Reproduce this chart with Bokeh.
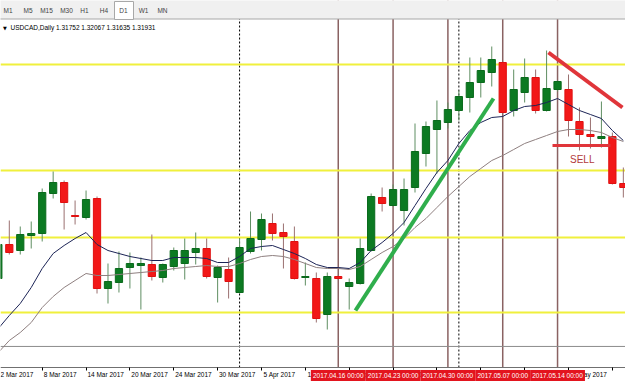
from bokeh.plotting import figure
from bokeh.models import Range1d, FixedTicker, Span, ColumnDataSource
from bokeh.core.properties import value
from bokeh.embed import file_html
from bokeh.resources import INLINE

# ---------------- data ----------------
bar_idx = list(range(-1, 57))
opens = [1.3329, 1.3397, 1.3385, 1.3415, 1.3419, 1.3499, 1.3521, 1.3455, 1.3451, 1.3489,
         1.3309, 1.3321, 1.3351, 1.3355, 1.3357, 1.3331, 1.3353, 1.3359, 1.3381, 1.3389,
         1.3331, 1.3347, 1.3301, 1.3383, 1.3407, 1.3439, 1.3421, 1.3403, 1.3331, 1.3329,
         1.3257, 1.3333, 1.3313, 1.3319, 1.3385, 1.3491, 1.3475, 1.3465, 1.3511, 1.3579,
         1.3627, 1.3641, 1.3665, 1.3691, 1.3721, 1.3741, 1.3761, 1.3665, 1.3701, 1.3731,
         1.3665, 1.3707, 1.3707, 1.3643, 1.3617, 1.3609, 1.3613, 1.3519]
highs = [1.3405, 1.3445, 1.3433, 1.3443, 1.3509, 1.3543, 1.3525, 1.3485, 1.3505, 1.3493,
         1.3359, 1.3383, 1.3381, 1.3371, 1.3417, 1.3359, 1.3391, 1.3409, 1.3421, 1.3409,
         1.3355, 1.3371, 1.3409, 1.3463, 1.3459, 1.3459, 1.3439, 1.3433, 1.3361, 1.3341,
         1.3341, 1.3335, 1.3329, 1.3409, 1.3499, 1.3511, 1.3517, 1.3529, 1.3639, 1.3643,
         1.3685, 1.3681, 1.3705, 1.3771, 1.3771, 1.3793, 1.3763, 1.3747, 1.3769, 1.3747,
         1.3785, 1.3725, 1.3737, 1.3671, 1.3651, 1.3683, 1.3621, 1.3551]
lows = [1.3321, 1.3377, 1.3377, 1.3389, 1.3403, 1.3489, 1.3427, 1.3437, 1.3447, 1.3299,
        1.3279, 1.3301, 1.3309, 1.3267, 1.3325, 1.3321, 1.3345, 1.3327, 1.3357, 1.3329,
        1.3281, 1.3289, 1.3299, 1.3379, 1.3385, 1.3405, 1.3349, 1.3327, 1.3315, 1.3241,
        1.3227, 1.3327, 1.3267, 1.3317, 1.3383, 1.3463, 1.3473, 1.3435, 1.3501, 1.3553,
        1.3539, 1.3629, 1.3645, 1.3661, 1.3691, 1.3713, 1.3659, 1.3653, 1.3681, 1.3659,
        1.3663, 1.3703, 1.3613, 1.3585, 1.3589, 1.3591, 1.3517, 1.3491]
closes = [1.3397, 1.3381, 1.3417, 1.3419, 1.3501, 1.3521, 1.3481, 1.3453, 1.3487, 1.3309,
          1.3323, 1.3349, 1.3359, 1.3359, 1.3333, 1.3357, 1.3385, 1.3385, 1.3389, 1.3333,
          1.3351, 1.3323, 1.3391, 1.3409, 1.3447, 1.3419, 1.3413, 1.3329, 1.3333, 1.3249,
          1.3333, 1.3329, 1.3321, 1.3389, 1.3493, 1.3479, 1.3507, 1.3507, 1.3583, 1.3633,
          1.3645, 1.3667, 1.3693, 1.3721, 1.3745, 1.3767, 1.3661, 1.3707, 1.3731, 1.3665,
          1.3709, 1.3723, 1.3645, 1.3617, 1.3613, 1.3613, 1.3519, 1.3511]
ma_fast = [1.3229, 1.3255, 1.3279, 1.3311, 1.3349, 1.3379, 1.3395, 1.3409, 1.3421, 1.3397,
           1.3385, 1.3379, 1.3373, 1.3369, 1.3365, 1.3365, 1.3371, 1.3371, 1.3371, 1.3369,
           1.3361, 1.3361, 1.3373, 1.3389, 1.3393, 1.3395, 1.3387, 1.3379, 1.3369, 1.3357,
           1.3351, 1.3351, 1.3349, 1.3361, 1.3385, 1.3401, 1.3419, 1.3441, 1.3475, 1.3509,
           1.3541, 1.3565, 1.3599, 1.3625, 1.3641, 1.3651, 1.3653, 1.3665, 1.3673, 1.3675,
           1.3681, 1.3689, 1.3677, 1.3665, 1.3657, 1.3649, 1.3625, 1.3605]
ma_slow = [1.3181, 1.3205, 1.3221, 1.3241, 1.3271, 1.3293, 1.3311, 1.3325, 1.3339, 1.3335,
           1.3335, 1.3337, 1.3339, 1.3341, 1.3343, 1.3345, 1.3349, 1.3351, 1.3353, 1.3355,
           1.3353, 1.3353, 1.3359, 1.3367, 1.3373, 1.3375, 1.3373, 1.3367, 1.3359, 1.3351,
           1.3349, 1.3349, 1.3347, 1.3353, 1.3367, 1.3381, 1.3393, 1.3409, 1.3431, 1.3449,
           1.3471, 1.3493, 1.3513, 1.3533, 1.3549, 1.3565, 1.3575, 1.3587, 1.3599, 1.3607,
           1.3615, 1.3623, 1.3627, 1.3627, 1.3625, 1.3621, 1.3611, 1.3603]

levels = [1.3757, 1.3545, 1.3411, 1.3261]
bid_price = 1.31931
axis_floor = 1.3151          # price at the chart's bottom edge (time axis)
chart_top = 1.3885
week_sep_idx = [30, 35, 40, 45, 50]
week_sep_labels = ["2017.04.16 00:00", "2017.04.23 00:00", "2017.04.30 00:00",
                   "2017.05.07 00:00", "2017.05.14 00:00"]
dashed_idx = [21, 41]
tick_idx = [-1, 3, 7, 11, 15, 19, 23, 27, 31, 35, 39, 43, 47, 51, 55]
tick_labels = ["2 Mar 2017", "8 Mar 2017", "14 Mar 2017", "20 Mar 2017", "24 Mar 2017",
               "30 Mar 2017", "5 Apr 2017", "11 Apr 2017", "17 Apr 2017", "21 Apr 2017",
               "27 Apr 2017", "3 May 2017", "9 May 2017", "15 May 2017", "19 May 2017"]
up_trend_x = [31.57, 44.16]
up_trend_y = [1.3265, 1.3689]
down_trend_x = [49.17, 55.92]
down_trend_y = [1.3781, 1.3671]
sell_x = [49.54, 54.83]
sell_y = [1.3595, 1.3595]
sell_text_pos = (52.25, 1.3567)
tabs = ["M1", "M5", "M15", "M30", "H1", "H4", "D1", "W1", "MN"]
title = "USDCAD,Daily  1.31752 1.32067 1.31635 1.31931"

# ---------------- figure ----------------
BAR_PX = 10.965
PX_PRICE = 0.0002
p = figure(width=625, height=384, output_backend="svg", toolbar_location=None,
           x_range=Range1d(-0.8025, -0.8025 + 625 / BAR_PX),
           y_range=Range1d(chart_top - 384 * PX_PRICE, chart_top),
           y_axis_location=None, x_axis_location="below",
           min_border_left=0, min_border_right=0, min_border_top=0, min_border_bottom=0)
p.grid.visible = False
p.outline_line_color = None
p.background_fill_color = "white"
p.border_fill_color = "white"

# chrome ranges (pixel rows from top of canvas)
p.extra_x_ranges = {"px": Range1d(0, 625)}
p.extra_y_ranges = {"py": Range1d(384, 0)}

# horizontal / vertical lines
for lv in levels:
    p.add_layout(Span(location=lv, dimension="width", line_color="#F0F03C",
                      line_width=2, level="underlay"))
p.add_layout(Span(location=bid_price, dimension="width", line_color="#8C8C8C",
                  line_width=1, level="underlay"))
n_w = len(week_sep_idx)
p.segment(x0=week_sep_idx, y0=[axis_floor] * n_w, x1=week_sep_idx, y1=[chart_top] * n_w,
          line_color="#8A6262", line_width=1.5, level="underlay")
n_d = len(dashed_idx)
p.segment(x0=dashed_idx, y0=[axis_floor] * n_d, x1=dashed_idx, y1=[chart_top] * n_d,
          line_color="#000000", line_width=1, line_dash="2 2", level="underlay")

# candles
up = [i for i in range(len(bar_idx)) if closes[i] >= opens[i]]
dn = [i for i in range(len(bar_idx)) if closes[i] < opens[i]]

def sel(ids):
    return ColumnDataSource(dict(
        x=[bar_idx[i] for i in ids],
        hi=[highs[i] for i in ids], lo=[lows[i] for i in ids],
        top=[max(opens[i], closes[i]) for i in ids],
        bot=[min(opens[i], closes[i]) for i in ids]))

src_up, src_dn = sel(up), sel(dn)
p.segment(x0="x", y0="lo", x1="x", y1="hi", source=src_up, line_color="#5F8E62", line_width=1)
p.segment(x0="x", y0="lo", x1="x", y1="hi", source=src_dn, line_color="#9A7070", line_width=1)
p.vbar(x="x", width=0.66, top="top", bottom="bot", source=src_up,
       fill_color="#0C7A22", line_color="#0A6A1C", line_width=1)
p.vbar(x="x", width=0.66, top="top", bottom="bot", source=src_dn,
       fill_color="#F21818", line_color="#E01010", line_width=1)

# moving averages
p.line(bar_idx, ma_slow, line_color="#8E7F7F", line_width=1)
p.line(bar_idx, ma_fast, line_color="#1C2456", line_width=1)

# drawings
p.line(up_trend_x, up_trend_y, line_color="#2FAE4C", line_width=4)
p.line(down_trend_x, down_trend_y, line_color="#E0353A", line_width=4)
p.line(sell_x, sell_y, line_color="#E0353A", line_width=3)
p.text(x=[sell_text_pos[0]], y=[sell_text_pos[1]], text=["SELL"], text_color="#B23A3A",
       text_font=value("Liberation Sans"), text_font_size="10px",
       text_align="center", text_baseline="middle")

# x axis (fixed at the chart's bottom edge, inside the canvas)
centers = [round(k + (2 + 3.2 * len(t) / 2) / BAR_PX, 4) for k, t in zip(tick_idx, tick_labels)]
ax = p.xaxis[0]
ax.fixed_location = axis_floor
ax.ticker = FixedTicker(ticks=centers, minor_ticks=tick_idx)
ax.major_label_overrides = {c: t for c, t in zip(centers, tick_labels)}
ax.major_tick_line_color = None
ax.major_tick_out = 0
ax.major_tick_in = 0
ax.minor_tick_line_color = "#000000"
ax.minor_tick_out = 3
ax.minor_tick_in = 0
ax.axis_line_color = "#707070"
ax.major_label_standoff = 0
ax.major_label_text_font = "Liberation Sans"
ax.major_label_text_font_size = "6.5px"
ax.major_label_text_color = "#000000"

# highlighted separator labels on the time axis
band_src = ColumnDataSource(dict(
    left=[k - 2.5 for k in week_sep_idx], right=[k + 2.5 for k in week_sep_idx],
    top=[369.5] * n_w, bottom=[380.5] * n_w, x=week_sep_idx, y=[375] * n_w,
    text=week_sep_labels))
p.quad(left="left", right="right", top="top", bottom="bottom", source=band_src,
       fill_color="#E3141E", line_color=None, y_range_name="py", level="overlay")
p.text(x="x", y="y", text="text", source=band_src, text_color="white",
       text_font=value("Liberation Sans"), text_font_size="6.5px",
       text_align="center", text_baseline="middle", y_range_name="py", level="overlay")

# tab bar + title (chrome)
p.quad(left=[0], right=[625], top=[0], bottom=[18.5], fill_color="#F0F0F0", line_color=None,
       x_range_name="px", y_range_name="py", level="overlay")
p.segment(x0=[0], y0=[18.5], x1=[625], y1=[18.5], line_color="#A8A8A8", line_width=1,
          x_range_name="px", y_range_name="py", level="overlay")
p.quad(left=[114], right=[133], top=[1], bottom=[19], fill_color="white", line_color="#A8A8A8",
       x_range_name="px", y_range_name="py", level="overlay")
tab_x = [7.5, 27.5, 46, 66, 84, 103.5, 123, 143, 162]
p.text(x=tab_x, y=[9.5] * len(tabs), text=tabs, text_color="#444444",
       text_font=value("Liberation Sans"), text_font_size="6.5px",
       text_align="center", text_baseline="middle",
       x_range_name="px", y_range_name="py", level="overlay")
p.text(x=[2.5], y=[27], text=["\u25bc"], text_color="#000000",
       text_font=value("DejaVu Sans"), text_font_size="5px", text_baseline="middle",
       x_range_name="px", y_range_name="py", level="overlay")
p.text(x=[10], y=[27], text=[title], text_color="#000000",
       text_font=value("Liberation Sans"), text_font_size="6.5px", text_baseline="middle",
       x_range_name="px", y_range_name="py", level="overlay")

open("out.html", "w").write(file_html(p, INLINE))
